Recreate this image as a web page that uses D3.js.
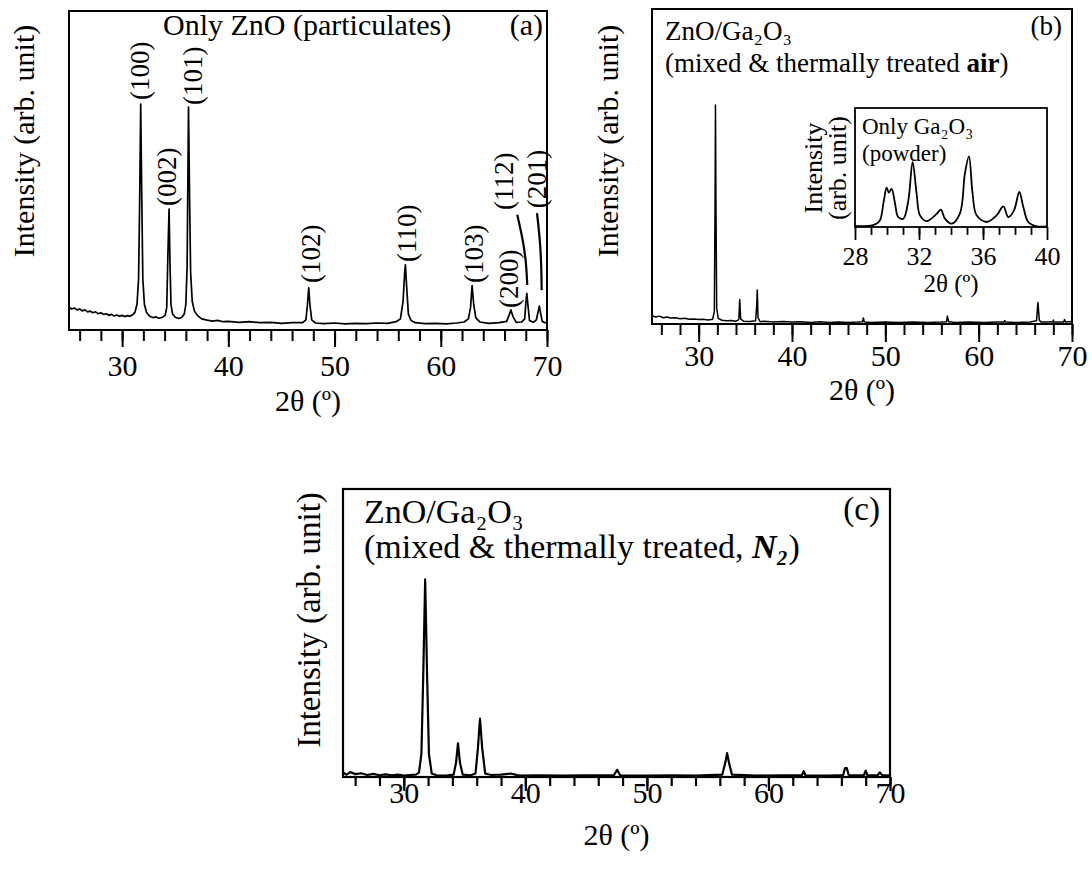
<!DOCTYPE html>
<html><head><meta charset="utf-8">
<script src="https://cdn.jsdelivr.net/npm/d3@7"></script>
<style>
body{margin:0;background:#fff}
svg{display:block}
text{font-family:"Liberation Serif","Times New Roman",Times,serif;fill:#000}
</style>
</head><body>
<svg id="chart" width="1092" height="869"></svg>
<script>
// ---------------- DATA (2θ in degrees, intensity in arbitrary units) ----------------
const majorTicksMain = [30, 40, 50, 60, 70];
const majorTicksInset = [28, 32, 36, 40];

// (a) Only ZnO (particulates)
const seriesA = [
  [25,7.2],[25.25,6.6],[25.5,6.9],[25.75,6.3],[26,6.6],[26.25,6.0],[26.5,6.3],[26.75,5.7],
  [27,5.9],[27.25,5.4],[27.5,5.7],[27.75,5.1],[28,5.4],[28.25,4.9],[28.5,5.1],[28.75,4.6],
  [29,4.9],[29.25,4.4],[29.5,4.7],[29.75,4.3],[30,4.6],[30.25,4.2],[30.5,4.5],[30.75,4.3],
  [31,4.8],[31.2,5.5],[31.4,8],[31.55,16],[31.65,40],[31.75,70.8],[31.85,42],[31.95,16],
  [32.1,8],[32.3,5.5],[32.6,4.3],[32.9,3.9],[33.2,4.1],[33.5,3.7],[33.8,4.0],[34.05,4.6],
  [34.2,7],[34.32,25],[34.42,37.9],[34.5,22],[34.6,8],[34.75,5],[35.0,4.0],[35.3,3.6],
  [35.6,3.9],[35.85,5],[36.0,8],[36.12,20],[36.25,69.9],[36.35,42],[36.45,18],[36.6,9],
  [36.8,6],[37.1,4.5],[37.5,3.5],[38,3.1],[38.5,2.8],[39,3.0],[39.5,2.6],[40,2.7],
  [41,2.4],[42,2.6],[43,2.3],[44,2.4],[45,2.1],[46,2.3],[47,2.3],[47.3,3.2],[47.45,8],
  [47.57,13.2],[47.68,8],[47.85,3.2],[48.2,2.2],[49,2.0],[50,2.2],[51,1.9],[52,2.1],
  [53,2.0],[54,2.2],[55,2.1],[55.8,2.6],[56.2,3.5],[56.45,9],[56.6,18],[56.67,20.4],
  [56.78,14],[56.95,5],[57.2,3],[57.6,2.3],[58.5,2.0],[59.5,2.1],[60.5,1.9],[61.5,2.2],
  [62.2,2.5],[62.6,3.5],[62.8,7],[62.95,13.9],[63.1,8],[63.3,3.8],[63.7,2.5],[64.5,2.1],
  [65.5,2.3],[66.2,2.7],[66.45,4.8],[66.6,6.3],[66.8,4.2],[67.1,2.4],[67.6,2.5],[67.9,3.5],
  [68.02,9],[68.1,11.5],[68.2,8],[68.35,3],[68.7,2.4],[69.0,3.2],[69.15,5.5],[69.28,7.5],
  [69.4,5.2],[69.55,2.7],[69.8,2.3],[70,2.4]
];
// (hkl) labels of (a): text, 2θ position, intensity where the label starts
const peakLabelsA = ["(100)","(002)","(101)","(102)","(110)","(103)","(200)","(112)","(201)"];
const peakLabelAngleA = [31.7, 34.27, 36.7, 47.8, 56.84, 63.09, 66.4, 65.93, 69.1];
const peakLabelLevelA = [72.1, 38.9, 70.5, 14.7, 21.3, 14.7, 6.9, 37.6, 38.2];
// leader lines (112) and (201): [2θ, intensity] points
const leader112 = [[67.2,36.1],[67.74,28.2],[68.05,20.9],[68.14,14.1]];
const leader201 = [[69.06,36.6],[69.34,28.2],[69.46,20.9],[69.5,12.5]];

// (b) ZnO/Ga2O3 mixed & thermally treated, air
const seriesB = [
  [25,2.6],[25.4,2.2],[25.8,2.5],[26.2,2.0],[26.6,2.2],[27,1.9],[27.5,2.0],[28,1.7],
  [28.5,1.8],[29,1.5],[29.5,1.6],[30,1.4],[30.5,1.5],[31,1.3],[31.5,1.5],[31.68,4],
  [31.76,40],[31.8,69.5],[31.85,40],[31.93,5],[32.1,1.8],[32.5,1.2],[33,1.0],[33.5,1.1],
  [34,0.9],[34.3,1.4],[34.4,7.8],[34.5,1.6],[34.8,0.9],[35.5,0.8],[36.1,1.0],[36.22,6],
  [36.28,10.8],[36.36,2],[36.6,0.7],[37,0.9],[38,0.6],[39,0.8],[40,0.6],[41,0.7],
  [42,0.5],[43,0.7],[44,0.5],[45,0.6],[46,0.5],[47,0.6],[47.55,0.7],[47.65,1.9],
  [47.75,0.6],[48.5,0.5],[50,0.6],[51.5,0.5],[53,0.6],[54.5,0.5],[56,0.6],[56.55,0.7],
  [56.65,2.5],[56.78,0.7],[57.5,0.5],[59,0.6],[60.5,0.5],[62,0.6],[62.7,0.6],[62.8,1.1],
  [62.9,0.6],[64,0.5],[65.5,0.6],[66.2,1.0],[66.35,6.8],[66.5,1.2],[66.7,0.6],[67.5,0.6],
  [67.95,0.6],[68.0,1.3],[68.05,0.6],[69.1,0.6],[69.2,1.4],[69.3,0.6],[70,0.8]
];

// inset: Only Ga2O3 (powder)
const seriesInset = [
  [28,1.0],[28.5,0.8],[29,1.2],[29.3,2.5],[29.56,5.6],[29.8,22],[29.98,33],[30.12,29],
  [30.29,32],[30.5,20],[30.7,8.4],[31.02,7],[31.33,22],[31.6,54.6],[31.85,28],[32.06,9.8],
  [32.48,5],[33.1,11],[33.37,14.6],[33.62,7],[34.04,2.8],[34.56,11.5],[34.87,45],[35.12,59.4],
  [35.35,28],[35.6,9.8],[36.23,4.2],[36.85,9.8],[37.27,17.4],[37.58,8.4],[37.94,14],[38.27,29.4],
  [38.52,16.8],[38.83,4.2],[39.36,0.6],[40,0.5]
];

// (c) ZnO/Ga2O3 mixed & thermally treated, N2
const seriesC = [
  [25,1.6],[25.3,0.8],[25.6,1.7],[26,1.0],[26.5,1.3],[27,0.7],[27.5,1.1],[28,0.6],
  [28.5,0.9],[29,0.6],[29.5,0.8],[30,0.5],[30.5,0.7],[31,0.8],[31.25,1.5],[31.45,8],
  [31.6,35],[31.76,68.6],[31.92,35],[32.07,8],[32.3,1.2],[32.7,0.6],[33.5,0.5],[34.1,0.8],
  [34.3,5],[34.46,11.7],[34.62,5],[34.85,0.8],[35.5,0.6],[35.9,1.2],[36.1,10],[36.27,20.3],
  [36.45,10],[36.7,1.2],[37.2,0.7],[38,0.8],[38.8,1.2],[39.5,0.5],[41,0.6],[43,0.5],
  [45,0.6],[47.3,0.7],[47.55,2.5],[47.8,0.6],[50,0.5],[52,0.6],[54,0.5],[56.2,0.8],
  [56.45,5],[56.6,8.3],[56.75,5],[57.0,0.8],[59,0.5],[61,0.6],[62.75,0.6],[62.9,2.0],
  [63.05,0.6],[65,0.5],[66.15,0.7],[66.3,3.1],[66.45,3.1],[66.6,0.7],[67.85,0.6],[68.0,2.2],
  [68.15,0.6],[69.0,0.7],[69.16,1.6],[69.35,0.7],[70,0.5]
];

// ---------------- DRAWING ----------------
const svg = d3.select("#chart");
svg.append("rect").attr("width",1092).attr("height",869).attr("fill","#fff");
const FONT = '"Liberation Serif","Times New Roman",Times,serif';

function panel(c){
  const g = svg.append("g");
  const x = d3.scaleLinear().domain(c.xDomain).range([c.left, c.right]);
  const y = d3.scaleLinear().domain([0,100]).range([c.bottom, c.top]);
  g.append("path").datum(c.data)
    .attr("d", d3.line().x(d=>x(d[0])).y(d=>y(d[1])).curve(c.curve || d3.curveLinear))
    .attr("fill","none").attr("stroke","#000").attr("stroke-width",c.lw)
    .attr("stroke-linejoin","round");
  g.append("rect").attr("x",c.left).attr("y",c.top)
    .attr("width",c.right-c.left).attr("height",c.bottom-c.top)
    .attr("fill","none").attr("stroke","#000").attr("stroke-width",c.frameW);
  const minor = g.append("g").attr("transform",`translate(0,${c.bottom})`)
    .call(d3.axisBottom(x).tickValues(c.minorTicks).tickSize(c.minorLen).tickFormat(""));
  minor.select(".domain").remove();
  minor.selectAll("line").attr("stroke","#000").attr("stroke-width",c.tickW);
  const major = g.append("g").attr("transform",`translate(0,${c.bottom})`)
    .call(d3.axisBottom(x).tickValues(c.majorTicks).tickSize(c.majorLen).tickFormat(d3.format("d")));
  major.select(".domain").remove();
  major.attr("font-family",FONT).attr("font-size",c.tickFont);
  major.selectAll("line").attr("stroke","#000").attr("stroke-width",c.tickW);
  major.selectAll("text").attr("y",c.tickLabelY).attr("dy",0).attr("fill","#000");
  g.append("text").attr("x",(c.left+c.right)/2).attr("y",c.xTitleY)
    .attr("text-anchor","middle").attr("font-size",c.xTitleFont).text("2θ (º)");
  return {g,x,y};
}

function vtext(g, x, y, str, size, anchor, baseline){
  return g.append("text").attr("transform",`translate(${x},${y}) rotate(-90)`)
    .attr("text-anchor",anchor||"middle")
    .attr("dominant-baseline",baseline||"auto")
    .attr("font-size",size).text(str);
}

// ---- Panel (a)
const A = panel({xDomain:[25,70], left:69, right:547, top:11, bottom:330, data:seriesA,
  lw:1.7, frameW:2, tickW:2, minorTicks:d3.range(26,71,2), majorTicks:majorTicksMain,
  minorLen:11, majorLen:17, tickFont:30, tickLabelY:46, xTitleY:411, xTitleFont:30});
A.g.append("text").attr("x",163).attr("y",35).attr("font-size",30).text("Only ZnO (particulates)");
A.g.append("text").attr("x",543).attr("y",35).attr("font-size",30).attr("text-anchor","end").text("(a)");
vtext(A.g, 34, 141, "Intensity (arb. unit)", 30);
peakLabelsA.forEach((lab,i)=>{
  vtext(A.g, A.x(peakLabelAngleA[i]), A.y(peakLabelLevelA[i]), lab, 27, "start", "central");
});
const leaderLine = d3.line().x(d=>A.x(d[0])).y(d=>A.y(d[1])).curve(d3.curveBasis);
[leader112, leader201].forEach(L=>{
  A.g.append("path").attr("d",leaderLine(L)).attr("fill","none").attr("stroke","#000").attr("stroke-width",2.2);
});

// ---- Panel (b)
const B = panel({xDomain:[25,70], left:652, right:1072, top:9, bottom:324, data:seriesB,
  lw:1.5, frameW:2, tickW:2, minorTicks:d3.range(26,71,2), majorTicks:majorTicksMain,
  minorLen:11, majorLen:18, tickFont:30, tickLabelY:42, xTitleY:400, xTitleFont:30});
B.g.append("text").attr("x",665).attr("y",40).attr("font-size",27).text("ZnO/Ga₂O₃");
const l2 = B.g.append("text").attr("x",665).attr("y",72).attr("font-size",27);
l2.append("tspan").text("(mixed & thermally treated ");
l2.append("tspan").attr("font-weight","bold").text("air");
l2.append("tspan").text(")");
B.g.append("text").attr("x",1062).attr("y",35).attr("font-size",27).attr("text-anchor","end").text("(b)");
vtext(B.g, 618, 141, "Intensity (arb. unit)", 30);

// ---- Inset
const I = panel({xDomain:[28,40], left:855, right:1047, top:108, bottom:227, data:seriesInset,
  curve:d3.curveCatmullRom.alpha(0.5),
  lw:1.8, frameW:1.8, tickW:1.8, minorTicks:d3.range(29,40,1), majorTicks:majorTicksInset,
  minorLen:8, majorLen:13, tickFont:26, tickLabelY:38, xTitleY:292, xTitleFont:25});
I.g.append("text").attr("x",862).attr("y",134).attr("font-size",23).text("Only Ga₂O₃");
I.g.append("text").attr("x",862).attr("y",161).attr("font-size",23).text("(powder)");
vtext(I.g, 822, 168, "Intensity", 26);
vtext(I.g, 846, 168, "(arb. unit)", 26);

// ---- Panel (c)
const C = panel({xDomain:[25,70], left:343, right:890, top:489, bottom:777, data:seriesC,
  lw:2.2, frameW:2.2, tickW:2.2, minorTicks:d3.range(26,71,2), majorTicks:majorTicksMain,
  minorLen:9, majorLen:14, tickFont:30, tickLabelY:26, xTitleY:845, xTitleFont:30});
C.g.append("text").attr("x",364).attr("y",523).attr("font-size",34).text("ZnO/Ga₂O₃");
const c2 = C.g.append("text").attr("x",364).attr("y",558).attr("font-size",34);
c2.append("tspan").text("(mixed & thermally treated, ");
c2.append("tspan").attr("font-weight","bold").attr("font-style","italic").text("N₂");
c2.append("tspan").text(")");
C.g.append("text").attr("x",880).attr("y",520).attr("font-size",33).attr("text-anchor","end").text("(c)");
vtext(C.g, 320, 620, "Intensity (arb. unit)", 33);
</script>
</body></html>
